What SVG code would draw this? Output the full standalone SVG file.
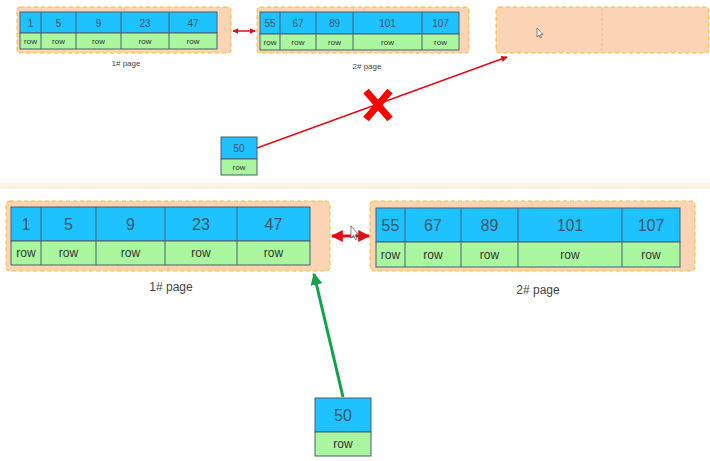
<svg xmlns="http://www.w3.org/2000/svg" width="710" height="461" viewBox="0 0 710 461">
<style>
.page{fill:#FAD4B4;stroke:#F2BE22;stroke-dasharray:4 3;}
.pdiv{stroke:#EFB88E;stroke-width:0.8;stroke-dasharray:3 2;fill:none;}
.k{fill:#1DC2FF;stroke:#4A5E6E;stroke-width:1;}
.r{fill:#AAF7A0;stroke:#4A5E6E;stroke-width:1;}
.d{stroke:#4A5E6E;stroke-width:1;fill:none;}
.nt{font-family:"Liberation Sans",Arial,sans-serif;fill:#3E5468;text-anchor:middle;}
.rt{font-family:"Liberation Sans",Arial,sans-serif;fill:#333;text-anchor:middle;}
.lbl{font-family:"Liberation Sans",Arial,sans-serif;fill:#444;text-anchor:middle;}
.s .nt{font-size:10px;}
.s .rt{font-size:8px;}
.s .lbl{font-size:8px;}
.b .nt{font-size:16px;}
.b .rt{font-size:12px;}
.b .lbl{font-size:12px;}
.cur{fill:#fff;stroke:#666;stroke-width:0.8;}
</style>
<defs>
<marker id="ar" viewBox="0 0 10 10" refX="9" refY="5" markerWidth="4" markerHeight="4" orient="auto-start-reverse"><path d="M0,0 L10,5 L0,10 z" fill="#E30D17"/></marker>
<marker id="ag" viewBox="0 0 10 10" refX="9" refY="5" markerWidth="4" markerHeight="4" orient="auto"><path d="M0,0 L10,5 L0,10 z" fill="#12A24C"/></marker>
</defs>
<rect x="0" y="0" width="710" height="461" fill="#fff"/>
<rect x="0" y="183" width="710" height="6" fill="#FDF3E4"/>

<g id="top-page1" class="s">
<rect class="page" x="17" y="7" width="214" height="46" rx="3"/>
<line class="pdiv" x1="124" y1="8" x2="124" y2="52"/>
<rect class="k" x="20" y="12" width="197" height="21"/>
<rect class="r" x="20" y="33" width="197" height="16"/>
<path class="d" d="M41,12V49M76,12V49M121,12V49M169,12V49"/>
<text class="nt" x="30.5" y="26.5">1</text><text class="nt" x="58.5" y="26.5">5</text><text class="nt" x="98.5" y="26.5">9</text><text class="nt" x="145" y="26.5">23</text><text class="nt" x="193" y="26.5">47</text>
<text class="rt" x="30.5" y="44">row</text><text class="rt" x="58.5" y="44">row</text><text class="rt" x="98.5" y="44">row</text><text class="rt" x="145" y="44">row</text><text class="rt" x="193" y="44">row</text>
<text class="lbl" x="126" y="66">1#  page</text>
</g>

<g id="top-page2" class="s">
<rect class="page" x="257" y="7" width="212" height="46" rx="3"/>
<line class="pdiv" x1="364" y1="8" x2="364" y2="52"/>
<rect class="k" x="260" y="12" width="199" height="22"/>
<rect class="r" x="260" y="34" width="199" height="16"/>
<path class="d" d="M280,12V50M316,12V50M353,12V50M422,12V50"/>
<text class="nt" x="270" y="27">55</text><text class="nt" x="298" y="27">67</text><text class="nt" x="334.5" y="27">89</text><text class="nt" x="387.5" y="27">101</text><text class="nt" x="440.5" y="27">107</text>
<text class="rt" x="270" y="45">row</text><text class="rt" x="298" y="45">row</text><text class="rt" x="334.5" y="45">row</text><text class="rt" x="387.5" y="45">row</text><text class="rt" x="440.5" y="45">row</text>
<text class="lbl" x="367" y="69">2#  page</text>
</g>

<g id="top-page3">
<rect class="page" x="496" y="7" width="213" height="46" rx="3"/>
<line class="pdiv" x1="602" y1="8" x2="602" y2="52"/>
<path class="cur" d="M537,28 L537,37 L539,35 L540.5,38 L541.5,37.5 L540.3,34.7 L543,34.5 z"/>
</g>

<g id="top-row50" class="s">
<rect class="k" x="221" y="137" width="36" height="22"/>
<rect class="r" x="221" y="159" width="36" height="16"/>
<text class="nt" x="239" y="152">50</text>
<text class="rt" x="239" y="170">row</text>
</g>

<g id="bottom-page1" class="b">
<rect class="page" x="6" y="201" width="324" height="70" rx="4"/>
<line class="pdiv" x1="168" y1="202" x2="168" y2="270"/>
<rect class="k" x="11" y="207" width="299" height="34"/>
<rect class="r" x="11" y="241" width="299" height="24"/>
<path class="d" d="M41,207V265M96,207V265M165,207V265M237,207V265"/>
<text class="nt" x="26" y="230">1</text><text class="nt" x="68.5" y="230">5</text><text class="nt" x="130.5" y="230">9</text><text class="nt" x="201" y="230">23</text><text class="nt" x="273.5" y="230">47</text>
<text class="rt" x="26" y="257">row</text><text class="rt" x="68.5" y="257">row</text><text class="rt" x="130.5" y="257">row</text><text class="rt" x="201" y="257">row</text><text class="rt" x="273.5" y="257">row</text>
<text class="lbl" x="171" y="291">1#  page</text>
</g>

<g id="bottom-page2" class="b">
<rect class="page" x="370" y="201" width="325" height="70" rx="4"/>
<line class="pdiv" x1="532" y1="202" x2="532" y2="270"/>
<rect class="k" x="376" y="208" width="304" height="34"/>
<rect class="r" x="376" y="242" width="304" height="25"/>
<path class="d" d="M405,208V267M461,208V267M518,208V267M622,208V267"/>
<text class="nt" x="390.5" y="231">55</text><text class="nt" x="433" y="231">67</text><text class="nt" x="489.5" y="231">89</text><text class="nt" x="570" y="231">101</text><text class="nt" x="651" y="231">107</text>
<text class="rt" x="390.5" y="259">row</text><text class="rt" x="433" y="259">row</text><text class="rt" x="489.5" y="259">row</text><text class="rt" x="570" y="259">row</text><text class="rt" x="651" y="259">row</text>
<text class="lbl" x="538" y="294">2#  page</text>
</g>

<g id="bottom-row50" class="b">
<rect class="k" x="315" y="398" width="56" height="34"/>
<rect class="r" x="315" y="432" width="56" height="24"/>
<text class="nt" x="343" y="421">50</text>
<text class="rt" x="343" y="448">row</text>
</g>

<g id="connectors">
<line x1="233" y1="31" x2="255" y2="31" stroke="#E30D17" stroke-width="1.5" marker-start="url(#ar)" marker-end="url(#ar)"/>
<line x1="257" y1="148" x2="507" y2="57" stroke="#E30D17" stroke-width="1.6" marker-end="url(#ar)"/>
<path d="M366,91 L390,119 M390,91 L366,119" stroke="#FF0000" stroke-width="7" fill="none"/>
<line x1="332" y1="236" x2="369" y2="236" stroke="#E30D17" stroke-width="3" marker-start="url(#ar)" marker-end="url(#ar)"/>
<line x1="343" y1="397" x2="314" y2="274" stroke="#12A24C" stroke-width="3" marker-end="url(#ag)"/>
</g>
<path class="cur" d="M351,226 L351,238 L353.5,235.5 L355.5,239.5 L357,238.8 L355,234.8 L358.5,234.5 z"/>
</svg>
